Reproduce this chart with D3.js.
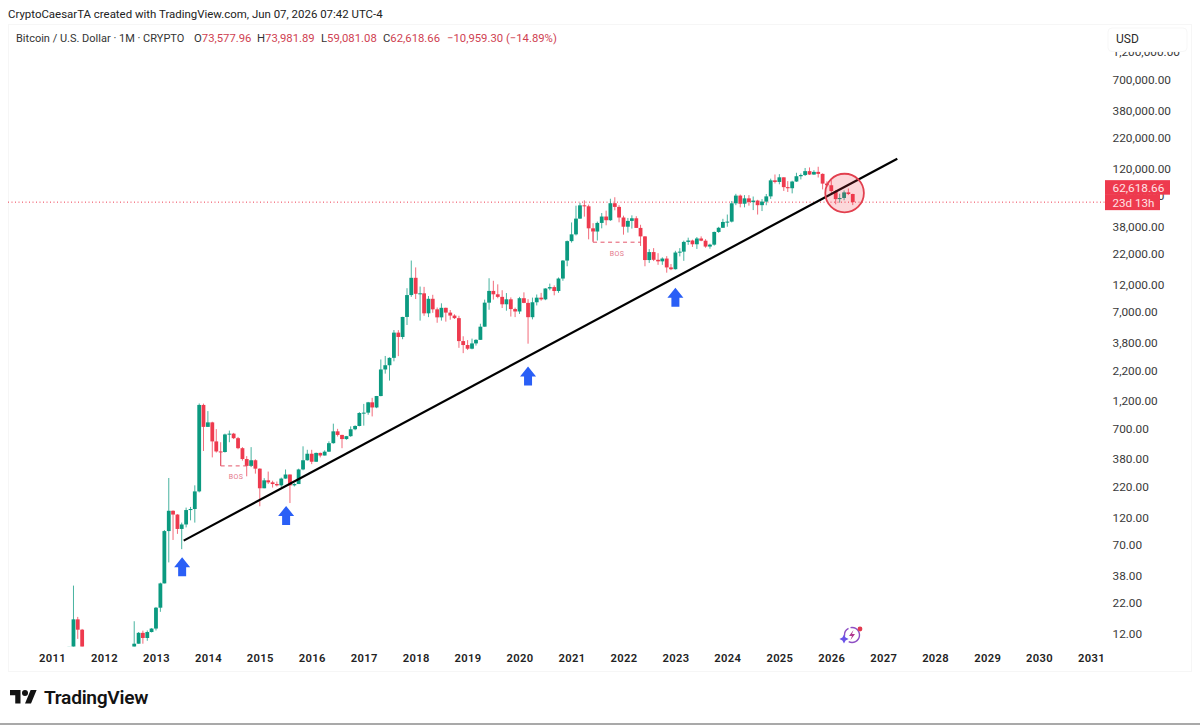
<!DOCTYPE html>
<html>
<head>
<meta charset="utf-8">
<script src="https://cdn.jsdelivr.net/npm/d3@7/dist/d3.min.js"></script>
<style>
html, body { margin: 0; padding: 0; background: #fff; overflow: hidden; }
text { font-family: Roboto, "Noto Sans", sans-serif; }
</style>
</head>
<body>
<div id="graphic"></div>
<script>
var width = 1200, height = 725;

// monthly candles. Aug 2011 to Jun 2012 closes sit under the pane so they are left out
var earlyMonths = ["2011-05", "2011-06", "2011-07", "2011-08"];
var laterFrom = "2012-07", laterTo = "2026-07";

var openPrice = [
	8, 9.3, 16.2, 13.2,
	6.6, 9.3, 10, 12.4, 11.2, 12.6,
	13.5, 20.4, 33, 93, 139, 129, 97, 106, 141, 144, 204, 1130,
	732, 800, 549, 450, 445, 630, 640, 585, 480, 387, 338, 378,
	320, 217, 254, 244, 236, 230, 263, 285, 230, 236, 315, 378,
	430, 367, 437, 415, 448, 530, 670, 624, 575, 609, 698, 745,
	963, 970, 1190, 1075, 1348, 2280, 2480, 2870, 4730, 4340, 6450, 9950,
	14000, 10200, 10300, 6930, 9240, 7500, 6400, 7730, 7030, 6630, 6300, 4000,
	3700, 3440, 3820, 4100, 5320, 8560, 10800, 10100, 9600, 8290, 9150, 7540,
	7190, 9350, 8520, 6420, 8630, 9450, 9140, 11330, 11650, 10780, 13800, 19700,
	28950, 33100, 45200, 58800, 57700, 37300, 35000, 41500, 47100, 43800, 61300, 57000,
	46200, 38500, 43200, 45500, 37600, 31800, 19900, 23300, 20000, 19400, 20500, 17200,
	16600, 23100, 23500, 28500, 29300, 27200, 30500, 29200, 26000, 27000, 34700, 37700,
	42300, 42600, 61200, 71300, 60700, 67500, 62700, 64600, 59000, 63300, 70200, 96400,
	93400, 102400, 84300, 82500, 94200, 104600, 107100, 115700, 108200, 114000, 109600, 90400,
	87500, 78000, 66500, 68000, 76000, 73577.96
];
var highPrice = [
	9.4, 31.6, 17, 13.4,
	9.3, 15.6, 12.6, 12.95, 13, 13.6,
	20.7, 33.5, 95, 266, 140, 130, 110, 148, 150, 230, 1163, 1160,
	1000, 810, 700, 540, 640, 680, 650, 600, 490, 410, 490, 385,
	322, 265, 302, 252, 248, 268, 315, 285, 240, 320, 498, 465,
	465, 440, 440, 460, 550, 780, 704, 626, 612, 739, 755, 980,
	1153, 1200, 1300, 1350, 2780, 2980, 2900, 4980, 4970, 6470, 11400, 19700,
	17200, 11780, 11700, 9760, 10000, 7780, 8450, 7750, 7400, 6800, 6600, 4400,
	4080, 4200, 4150, 5640, 9090, 13880, 13200, 12300, 10950, 10350, 9500, 7750,
	9600, 10500, 9180, 9460, 10060, 10390, 11400, 12480, 12050, 14100, 19900, 29300,
	41900, 58400, 61800, 64900, 59600, 41300, 42600, 50500, 52900, 67000, 69000, 59000,
	47900, 45800, 48200, 47400, 40000, 31900, 24700, 25200, 22800, 21000, 21500, 18400,
	23900, 25200, 29200, 31000, 29800, 31400, 31800, 30100, 27500, 35000, 38400, 45000,
	49000, 64000, 73800, 72800, 72000, 72000, 70000, 65600, 66500, 73600, 99700, 108300,
	109000, 102500, 95000, 95700, 112000, 110400, 123200, 124500, 117900, 126200, 110700, 94500,
	97000, 79500, 74000, 79000, 82000, 73981.89
];
var lowPrice = [
	3, 9, 11, 7,
	6.4, 9.2, 10, 10, 10.6, 12.5,
	13, 18.8, 33, 50, 78, 88, 65, 100, 115, 110, 200, 454,
	730, 400, 440, 340, 440, 540, 575, 470, 375, 275, 330, 290,
	152, 217, 236, 220, 225, 222, 262, 162, 225, 236, 310, 375,
	350, 365, 400, 415, 445, 525, 605, 480, 567, 600, 685, 740,
	750, 930, 900, 1060, 1340, 2100, 1830, 2680, 2970, 4150, 5500, 9600,
	9200, 6000, 6600, 6430, 7000, 5750, 6000, 5880, 6100, 6200, 3500, 3150,
	3350, 3400, 3660, 4090, 5320, 7440, 9100, 9340, 7700, 7300, 6500, 6430,
	6850, 8470, 3800, 6150, 8100, 8900, 8990, 10950, 9900, 10400, 13200, 17600,
	28100, 32400, 45000, 47000, 30000, 28800, 29300, 37300, 39600, 43200, 53300, 42000,
	32900, 34300, 37100, 37600, 26300, 17600, 18800, 19500, 18100, 18100, 15500, 16300,
	16500, 21400, 19600, 26900, 25800, 24800, 28900, 25400, 24900, 26500, 34100, 37600,
	38500, 41900, 59000, 56500, 56500, 58400, 53500, 49000, 52500, 58900, 66800, 90700,
	89200, 78200, 76600, 74500, 93400, 98200, 105100, 107300, 107300, 102000, 80600, 84400,
	75000, 60000, 62000, 65000, 72000, 59081.08
];
var closePrice = [
	9.4, 16.2, 13.2, 8,
	9.3, 10, 12.4, 11.2, 12.6, 13.5,
	20.4, 33, 93, 139, 129, 97, 106, 141, 144, 204, 1130, 732,
	800, 549, 450, 445, 630, 640, 585, 480, 387, 338, 378, 320,
	217, 254, 244, 236, 230, 263, 285, 230, 236, 315, 378, 430,
	367, 437, 415, 448, 530, 670, 624, 575, 609, 698, 745, 963,
	970, 1190, 1075, 1348, 2280, 2480, 2870, 4730, 4340, 6450, 9950, 14000,
	10200, 10300, 6930, 9240, 7500, 6400, 7730, 7030, 6630, 6300, 4000, 3700,
	3440, 3820, 4100, 5320, 8560, 10800, 10100, 9600, 8290, 9150, 7540, 7190,
	9350, 8520, 6420, 8630, 9450, 9140, 11330, 11650, 10780, 13800, 19700, 28950,
	33100, 45200, 58800, 57700, 37300, 35000, 41500, 47100, 43800, 61300, 57000, 46200,
	38500, 43200, 45500, 37600, 31800, 19900, 23300, 20000, 19400, 20500, 17200, 16600,
	23100, 23500, 28500, 29300, 27200, 30500, 29200, 26000, 27000, 34700, 37700, 42300,
	42600, 61200, 71300, 60700, 67500, 62700, 64600, 59000, 63300, 70200, 96400, 93400,
	102400, 84300, 82500, 94200, 104600, 107100, 115700, 108200, 114000, 109600, 90400, 87500,
	78000, 66500, 68000, 76000, 73577.96, 62618.66
];

var yearTicks = [2011, 2012, 2013, 2014, 2015, 2016, 2017, 2018, 2019, 2020, 2021, 2022, 2023, 2024, 2025, 2026, 2027, 2028, 2029, 2030, 2031];
var priceTicks = [12, 22, 38, 70, 120, 220, 380, 700, 1200, 2200, 3800, 7000, 12000, 22000, 38000, 70000, 120000, 220000, 380000, 700000, 1200000];

var lastPrice = 62618.66;
var countdown = "23d 13h";

// drawings on the chart, all anchored on date + price
var trendDates = ["2013-07-15", "2027-04-10"];
var trendPrices = [77, 148000];
var arrowDates = ["2013-07-04", "2015-07-05", "2020-03-01", "2023-01-01"];
var arrowPrices = [55.5, 153, 2418, 11490];
var bosStart = ["2014-04-01", "2021-06-01"];
var bosEnd = ["2014-11-03", "2022-05-03"];
var bosFrom = [445, 35000];
var bosLevel = [338, 28340];
var circleDate = "2026-04-01";
var circlePrice = 75000;

var green = "#0b9a80", red = "#ee3a4e", textRed = "#cf3f52", dark = "#2b2b2b";
var parseDate = d3.utcParse("%Y-%m-%d");
var parseMonth = d3.utcParse("%Y-%m");

var months = earlyMonths.map(parseMonth)
	.concat(d3.utcMonth.range(parseMonth(laterFrom), parseMonth(laterTo)));

var candles = months.map(function(m, i) {
	return {date: m, o: openPrice[i], h: highPrice[i], l: lowPrice[i], c: closePrice[i]};
});

var pane = {left: 8, right: 1105, top: 24, bottom: 646.5};

var x = d3.scaleUtc()
	.domain([new Date(Date.UTC(2011, 0, 1)), new Date(Date.UTC(2031, 0, 1))])
	.range([52, 1091]);

var y = d3.scaleLog()
	.domain([12, 1200000])
	.range([634.5, 53]);

var svg = d3.select("#graphic").append("svg")
	.attr("width", width)
	.attr("height", height)
	.style("display", "block");

svg.append("defs").append("clipPath").attr("id", "paneClip")
	.append("rect")
	.attr("x", pane.left).attr("y", pane.top)
	.attr("width", pane.right - pane.left)
	.attr("height", pane.bottom - pane.top);

// faint frame round the whole widget
svg.append("rect")
	.attr("x", 8.5).attr("y", 24.5)
	.attr("width", 1183).attr("height", 647)
	.attr("fill", "none")
	.attr("stroke", "#f6f6f6");

// header
svg.append("text")
	.attr("x", 8).attr("y", 18)
	.attr("font-size", 11.45)
	.attr("fill", "#222")
	.text("CryptoCaesarTA created with TradingView.com, Jun 07, 2026 07:42 UTC-4");

var legend = svg.append("text")
	.attr("x", 16).attr("y", 42)
	.attr("font-size", 11)
	.attr("fill", "#333");
legend.append("tspan").text("Bitcoin / U.S. Dollar · 1M · CRYPTO");
var legendParts = [
	["O", "73,577.96", 194], ["H", "73,981.89", 257], ["L", "59,081.08", 321], ["C", "62,618.66", 383]
];
legendParts.forEach(function(p) {
	legend.append("tspan").attr("x", p[2]).attr("font-size", 11.3).text(p[0]);
	legend.append("tspan").attr("fill", textRed).attr("font-size", 11.3).text(p[1]);
});
legend.append("tspan").attr("x", 447).attr("fill", textRed).attr("font-size", 11.3).text("−10,959.30 (−14.89%)");

var chart = svg.append("g").attr("clip-path", "url(#paneClip)");

// last price line
chart.append("line")
	.attr("x1", pane.left).attr("x2", pane.right)
	.attr("y1", y(lastPrice)).attr("y2", y(lastPrice))
	.attr("stroke", red)
	.attr("stroke-width", 1)
	.attr("stroke-dasharray", "1 2.5");

// candles
var candleWidth = 3.8;
var candle = chart.selectAll(".candle").data(candles).enter()
	.append("g")
	.attr("class", "candle")
	.attr("fill", function(d) { return d.c >= d.o ? green : red; })
	.attr("stroke", function(d) { return d.c >= d.o ? green : red; });

candle.append("line")
	.attr("x1", function(d) { return x(d.date); })
	.attr("x2", function(d) { return x(d.date); })
	.attr("y1", function(d) { return y(d.h); })
	.attr("y2", function(d) { return y(d.l); })
	.attr("stroke-width", 1)
	.attr("stroke-opacity", 0.75);

candle.append("rect")
	.attr("x", function(d) { return x(d.date) - candleWidth / 2; })
	.attr("width", candleWidth)
	.attr("y", function(d) { return y(Math.max(d.o, d.c)); })
	.attr("height", function(d) { return Math.max(1, Math.abs(y(d.o) - y(d.c))); })
	.attr("stroke", "none");

// BOS brackets
bosStart.forEach(function(s, i) {
	var x0 = x(parseDate(s)), x1 = x(parseDate(bosEnd[i]));
	var g = chart.append("g").attr("stroke", "#e4566a").attr("fill", "none").attr("stroke-width", 1);
	g.append("line")
		.attr("x1", x0).attr("x2", x0)
		.attr("y1", y(bosFrom[i])).attr("y2", y(bosLevel[i]));
	g.append("line")
		.attr("x1", x0).attr("x2", x1)
		.attr("y1", y(bosLevel[i])).attr("y2", y(bosLevel[i]))
		.attr("stroke-dasharray", "4 3.5");
	chart.append("text")
		.attr("x", (x0 + x1) / 2)
		.attr("y", y(bosLevel[i]) + 13.5)
		.attr("text-anchor", "middle")
		.attr("font-size", 7)
		.attr("letter-spacing", 0.4)
		.attr("fill", "#e4788a")
		.text("BOS");
});

// trendline
chart.append("line")
	.attr("x1", x(parseDate(trendDates[0])))
	.attr("y1", y(trendPrices[0]))
	.attr("x2", x(parseDate(trendDates[1])))
	.attr("y2", y(trendPrices[1]))
	.attr("stroke", "#000")
	.attr("stroke-width", 2.2);

// blue arrows, shape relative to the tip
var arrowShape = d3.line()([[0, 0], [8, 10], [4, 10], [4, 19], [-4, 19], [-4, 10], [-8, 10]]) + "Z";
chart.selectAll(".arrow").data(arrowDates).enter()
	.append("path")
	.attr("class", "arrow")
	.attr("transform", function(d, i) { return "translate(" + x(parseDate(d)) + "," + y(arrowPrices[i]) + ")"; })
	.attr("d", arrowShape)
	.attr("fill", "#2a5ff6");

// circle round the last candles
chart.append("circle")
	.attr("cx", x(parseDate(circleDate)) + 0.5)
	.attr("cy", y(circlePrice))
	.attr("r", 19.3)
	.attr("fill", "#f23645")
	.attr("fill-opacity", 0.2)
	.attr("stroke", "#e2404f")
	.attr("stroke-width", 1.8);

// small purple badge
var badge = svg.append("g").attr("transform", "translate(852,635)");
badge.append("path")
	.attr("d", d3.arc()({innerRadius: 6.8, outerRadius: 8.2, startAngle: -0.2, endAngle: 3.6}))
	.attr("fill", "#8e4fc4");
badge.append("path")
	.attr("d", d3.arc()({innerRadius: 6.8, outerRadius: 8.2, startAngle: 4.6, endAngle: 5.8}))
	.attr("fill", "#8e4fc4");
badge.append("path")
	.attr("d", "M1.5,-5 L-3,1 L0,1 L-1.5,5 L3,-1 L0,-1 Z")
	.attr("fill", "#b0378f");
badge.append("path")
	.attr("d", "M-8,-0.5 L-6.4,2.4 L-3.4,4 L-6.4,5.6 L-8,8.5 L-9.6,5.6 L-12.6,4 L-9.6,2.4 Z")
	.attr("fill", "#6a52e8");
badge.append("circle")
	.attr("cx", 8).attr("cy", -6).attr("r", 2.4)
	.attr("fill", "#e23a4e");

// x axis
var xAxis = d3.axisBottom(x)
	.tickValues(yearTicks.map(function(t) { return new Date(Date.UTC(t, 0, 1)); }))
	.tickFormat(d3.utcFormat("%Y"))
	.tickSize(0)
	.tickPadding(0);
var gx = svg.append("g").attr("transform", "translate(0,654)").call(xAxis);
gx.select(".domain").remove();
gx.selectAll("text")
	.attr("font-family", "Inter, sans-serif")
	.attr("font-size", 11.2)
	.attr("font-weight", 600)
	.attr("letter-spacing", 0.35)
	.attr("fill", "#222");

// price axis, nudged up a touch to sit on the reference baseline
var yAxis = d3.axisRight(y)
	.tickValues(priceTicks)
	.tickFormat(d3.format(",.2f"))
	.tickSize(0)
	.tickPadding(0);
var gy = svg.append("g").attr("transform", "translate(1112.5,-0.8)").call(yAxis);
gy.select(".domain").remove();
gy.selectAll("text")
	.attr("font-family", "Roboto, sans-serif")
	.attr("font-size", 11.8)
	.attr("fill", "#3a3a3a");

// USD box sits over the top tick label
svg.append("rect")
	.attr("x", 1108).attr("y", 28)
	.attr("width", 79).attr("height", 23.5)
	.attr("rx", 4)
	.attr("fill", "#fff")
	.attr("stroke", "#f7f7f7");
svg.append("text")
	.attr("x", 1116).attr("y", 43)
	.attr("font-size", 12)
	.attr("fill", dark)
	.text("USD");

// last price tag
var tagY = y(lastPrice);
svg.append("rect")
	.attr("x", 1105).attr("y", tagY - 22)
	.attr("width", 65).attr("height", 14.5)
	.attr("fill", red);
svg.append("rect")
	.attr("x", 1105).attr("y", tagY - 8)
	.attr("width", 55).attr("height", 16)
	.attr("fill", red);
svg.append("text")
	.attr("x", 1112.5).attr("y", tagY - 10.5)
	.attr("font-size", 11.8)
	.attr("fill", "#ffe3e6")
	.text(d3.format(",.2f")(lastPrice));
svg.append("text")
	.attr("x", 1112.5).attr("y", tagY + 4.5)
	.attr("font-size", 11.6)
	.attr("fill", "#ffe3e6")
	.text(countdown);

// logo
var logo = svg.append("g").attr("transform", "translate(10,687) scale(0.75)").attr("fill", "#131313");
logo.append("path").attr("d", "M14 22H7V11H0V4h14v18zM28 22h-8l7.5-18h8L28 22z");
logo.append("circle").attr("cx", 20).attr("cy", 8).attr("r", 4);
svg.append("text")
	.attr("x", 44).attr("y", 704)
	.attr("font-family", "Inter, sans-serif")
	.attr("font-size", 19.2)
	.attr("font-weight", 600)
	.attr("letter-spacing", -0.3)
	.attr("fill", "#131313")
	.text("TradingView");

// grey edge along the bottom of the screenshot
svg.append("rect")
	.attr("x", 0).attr("y", 723)
	.attr("width", width).attr("height", 2)
	.attr("fill", "#a9a9a9");
</script>
</body>
</html>
